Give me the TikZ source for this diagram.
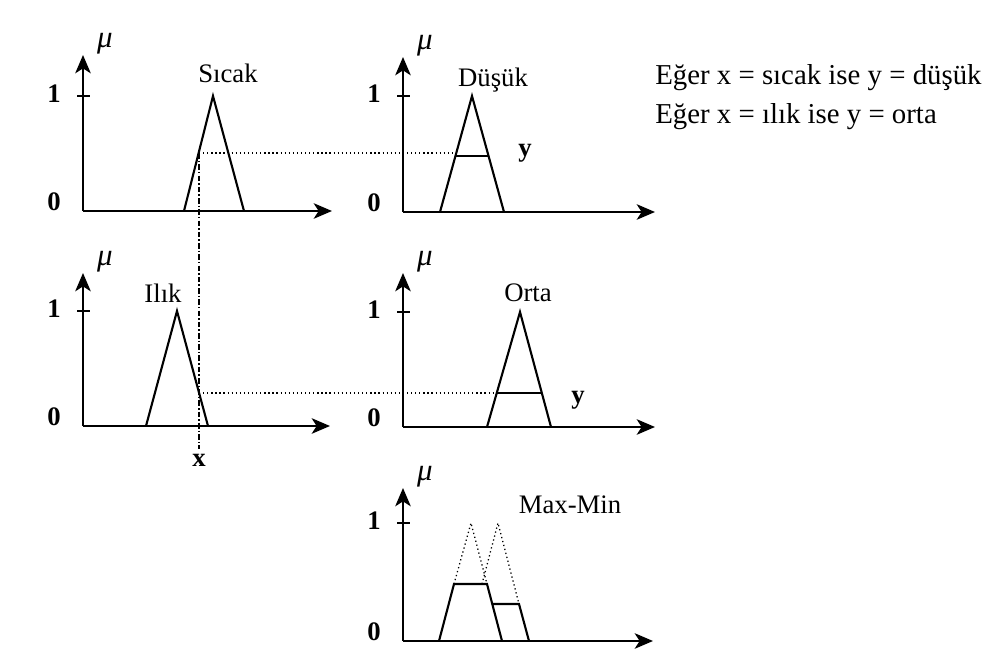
\documentclass[tikz,border=0pt]{standalone}
\usepackage{fontspec}
\setmainfont{Liberation Serif}
\usetikzlibrary{arrows.meta}
\tikzset{
  axis/.style={-{Stealth[length=13pt,width=11pt,inset=3.5pt]}, line width=1.6pt},
  tick/.style={line width=1.3pt},
  mf/.style={line width=1.5pt, line join=miter},
  cutline/.style={dotted, line width=0.9pt},
  guide/.style={line width=1pt, dash pattern=on 4pt off 1.5pt on 1pt off 1.5pt},
  ttl/.style={font=\fontsize{19}{22}\selectfont},
  val/.style={font=\fontsize{19}{22}\selectfont\bfseries},
  mulbl/.style={font=\fontsize{22}{24}\selectfont\itshape},
  rulelbl/.style={font=\fontsize{20.5}{24}\selectfont, anchor=west, inner sep=0pt},
}
\begin{document}
\begin{tikzpicture}[x=0.025cm, y=-0.025cm]
  \useasboundingbox[fill=white] (0,0) rectangle (994,659);

  % axes of the five plots
  \foreach \p/\ox/\oy/\ty/\oney/\xe in {s/83/211/55/96/332, d/403/212/57/96/655,
      i/83/426/273/311/330, o/403/427/273/312/655, m/403/641/488/523/653}{
    \coordinate (\p-o) at (\ox,\oy);
    \coordinate (\p-top) at (\ox,\ty);
    \coordinate (\p-end) at (\xe,\oy);
    \draw[axis] (\p-o) -- (\p-top);
    \draw[axis] (\p-o) -- (\p-end);
    \draw[tick] (\ox-6,\oney) -- (\ox+7,\oney);
    \node[val] (\p-one) at (\ox-29,\oney-2) {1};
    \node[val] (\p-zero) at (\ox-29,\oy-9) {0};
    \node[mulbl] (\p-mu) at (\ox+22,\ty-11) {μ};
  }

  % Sicak
  \draw[mf] (184,211) -- (213,96) -- (244,211);
  \node[ttl] (sicak) at (228,73) {Sıcak};
  % Dusuk
  \draw[mf] (440,212) -- (472,96) -- (504,212);
  \draw[mf] (455,156) -- (488,156);
  \node[ttl] (dusuk) at (493,80) {Düşük};
  \node[val] (y1) at (525,153) {y};
  % Ilik
  \draw[mf] (146,426) -- (177,311) -- (208,426);
  \node[ttl] (ilik) at (163,293) {Ilık};
  % Orta
  \draw[mf] (487,427) -- (520,312) -- (551,427);
  \draw[mf] (497,393) -- (542,393);
  \node[ttl] (orta) at (528,293) {Orta};
  \node[val] (y2) at (578,400) {y};

  % input x and the two degrees
  \coordinate (xs) at (199,153);
  \coordinate (xi) at (199,393);
  \node[val] (x) at (199,460) {x};
  \draw[guide] (xs) -- (x.north);
  \draw[cutline] (xs) -- (455,153);
  \draw[cutline] (xi) -- (497,393);

  % Max-Min
  \draw[cutline] (454,584) -- (471,523) -- (487,584);
  \draw[cutline] (482,584) -- (498,523) -- (519,604);
  \draw[mf] (439,641) -- (454,584) -- (487,584) -- (502,641);
  \draw[mf] (492,604) -- (519,604) -- (529,641);
  \node[ttl] (maxmin) at (570,505) {Max-Min};

  % rules
  \node[rulelbl] (r1) at (655,78) {Eğer x = sıcak ise y = düşük};
  \node[rulelbl] (r2) at (655,117) {Eğer x = ılık ise y = orta};
\end{tikzpicture}
\end{document}
